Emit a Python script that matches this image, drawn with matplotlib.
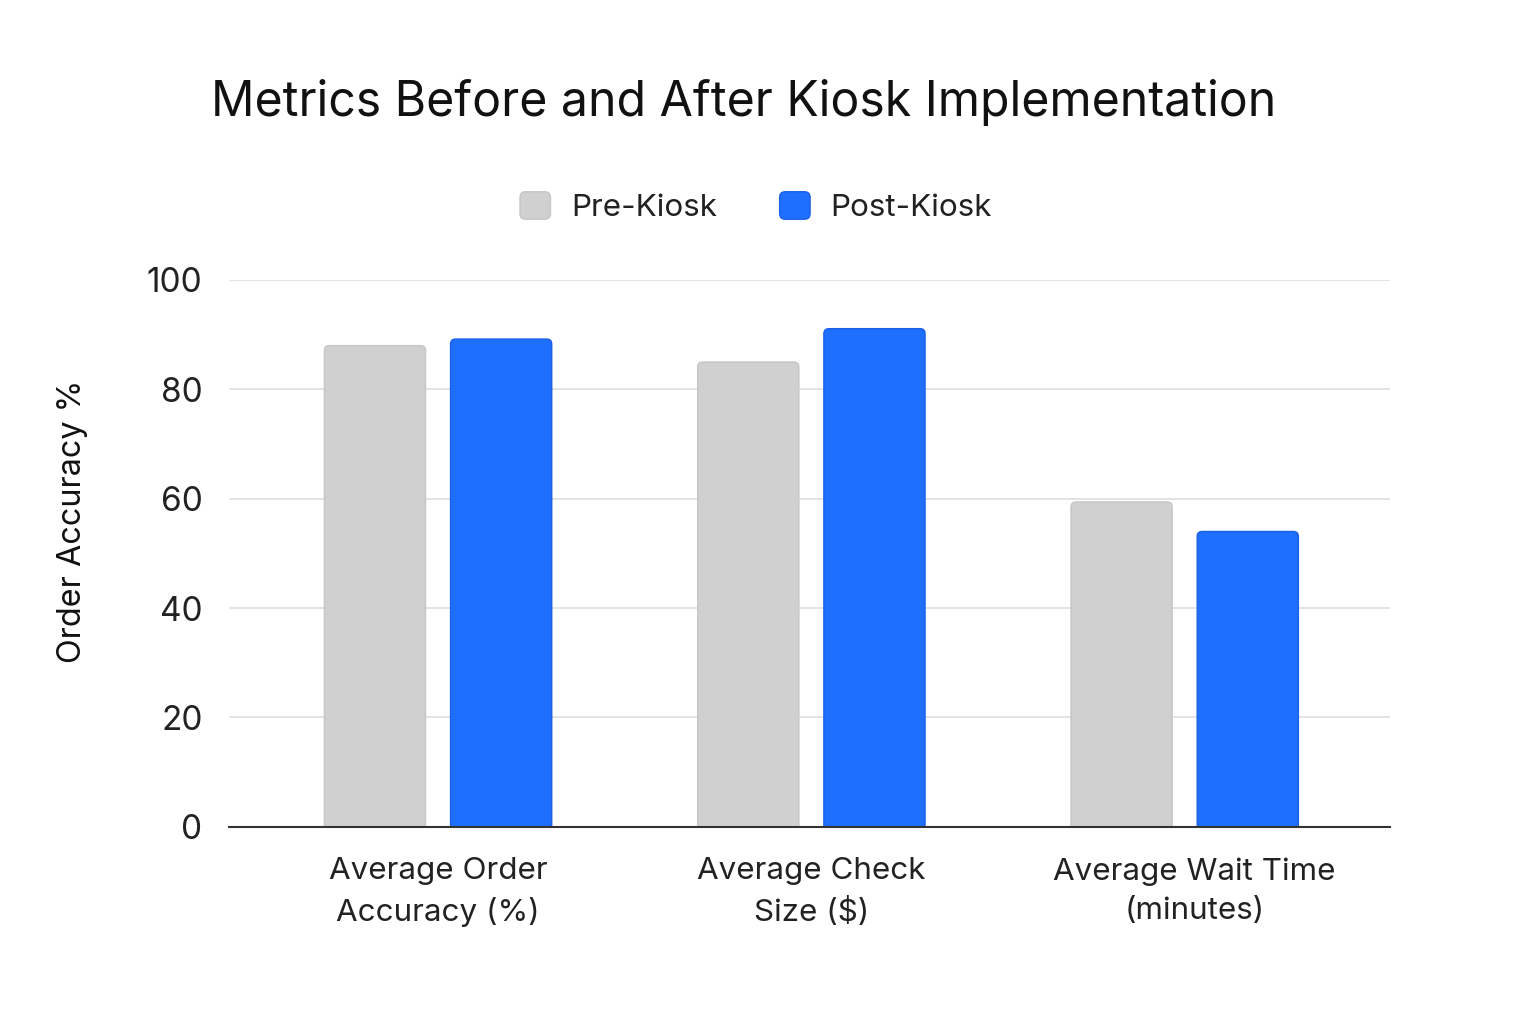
import matplotlib
matplotlib.use("Agg")
import matplotlib.pyplot as plt
from matplotlib.patches import FancyBboxPatch
from matplotlib.legend_handler import HandlerPatch
from matplotlib.transforms import ScaledTranslation
import numpy as np

categories = ["Average Order\nAccuracy (%)", "Average Check\nSize ($)", "Average Wait Time\n(minutes)"]
series_names = ["Pre-Kiosk", "Post-Kiosk"]
pre_values = [88, 85, 59.4]
post_values = [89.2, 91.1, 54]
y_ticks = [0, 20, 40, 60, 80, 100]

plt.rcParams['font.family'] = ['Inter', 'DejaVu Sans']

PRE_C, PRE_E = "#D0D0D0", "#C6C6C6"
POST_C, POST_E = "#1F6FFF", "#1A60E6"

fig = plt.figure(figsize=(15.36, 10.24), dpi=100)
ax = fig.add_axes([229/1536, 1-826.7/1024, (1390-229)/1536, (826.7-280)/1024])

x = np.arange(len(categories))
w = 0.271
off = 0.169
bars_pre = ax.bar(x - off, pre_values, w, color=PRE_C, label=series_names[0])
bars_post = ax.bar(x + off, post_values, w, color=POST_C, label=series_names[1])

ax.set_xlim(-0.56, 2.55)
ax.set_ylim(0, 100)

# replace rectangles with rounded boxes
xpx = (1390-229) / (2.55+0.56)
ypx = (826.7-280) / 100
r = 5.0 / xpx
aspect = (5.0 / ypx) / r
for bars, fc, ec in [(bars_pre, PRE_C, PRE_E), (bars_post, POST_C, POST_E)]:
    for b in bars:
        b.set_visible(False)
        p = FancyBboxPatch((b.get_x(), -3), b.get_width(), b.get_height() + 3,
                           boxstyle=f"round,pad=0,rounding_size={r}",
                           mutation_aspect=aspect, fc=fc, ec=ec, lw=1.0,
                           clip_on=True, zorder=3)
        ax.add_patch(p)

ax.set_yticks(y_ticks)
ax.yaxis.grid(True, color="#DEDEDE", lw=1.2)
ax.set_axisbelow(True)
for s in ["top", "right", "left"]:
    ax.spines[s].set_visible(False)
ax.spines["bottom"].set_color("#333333")
ax.spines["bottom"].set_linewidth(1.5)
ax.spines["bottom"].set_zorder(4)
ax.tick_params(axis="both", length=0, colors="#222222")
ax.tick_params(axis="y", pad=19, labelsize=24)
ax.tick_params(axis="x", pad=22, labelsize=22.6)
ax.set_xticks(x)
ax.set_xticklabels(categories, linespacing=1.5)
lbls = ax.get_xticklabels()
lbls[2].set_transform(lbls[2].get_transform() + ScaledTranslation(10/100, 0, fig.dpi_scale_trans))
ax.set_ylabel("Order Accuracy %", fontsize=23.3, color="#111111")
ax.yaxis.set_label_coords((88-229)/1161, (826.7-521)/546.7)

fig.text(744/1536, 1-103/1024, "Metrics Before and After Kiosk Implementation",
         ha="center", va="center", fontsize=34.7, color="#111111")


class RoundHandler(HandlerPatch):
    def create_artists(self, legend, orig_handle, xdescent, ydescent, width, height, fontsize, trans):
        fc = orig_handle.get_facecolor()
        ec = PRE_E if orig_handle.get_label() == series_names[0] else POST_E
        p = FancyBboxPatch((-xdescent, -ydescent), width, height,
                           boxstyle="round,pad=0,rounding_size=4",
                           fc=fc, ec=ec, lw=1.0, transform=trans)
        return [p]


handles = [bars_pre.patches[0], bars_post.patches[0]]
for h, n in zip(handles, series_names):
    h.set_label(n)
leg = fig.legend(handles, series_names, loc="center", bbox_to_anchor=(756/1536, 1-207/1024),
                 ncol=2, frameon=False, fontsize=22.6, handlelength=0.97, handleheight=0.97,
                 handletextpad=0.65, columnspacing=2.0,
                 handler_map={h: RoundHandler() for h in handles})
for t in leg.get_texts():
    t.set_color("#222222")

fig.savefig("out.png", dpi=100, facecolor="white")
